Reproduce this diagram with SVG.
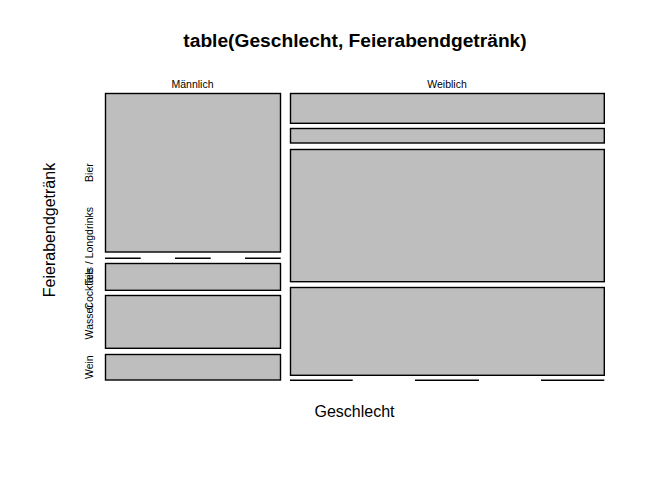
<svg xmlns="http://www.w3.org/2000/svg" width="672" height="480" viewBox="0 0 672 480">
<style>
  .cell { fill: #bebebe; stroke: #000; stroke-width: 1.4; }
  .zero { stroke: #000; stroke-width: 1.4; fill: none; }
  .lab { font-family: "Liberation Sans", Arial, sans-serif; font-size: 10.5px; fill: #000; }
  .axis { font-family: "Liberation Sans", Arial, sans-serif; font-size: 16px; fill: #000; }
  .title { font-family: "Liberation Sans", Arial, sans-serif; font-size: 19.2px; font-weight: bold; fill: #000; }
</style>
<rect x="0" y="0" width="672" height="480" fill="#fff"/>
<text class="title" x="355" y="47" text-anchor="middle">table(Geschlecht, Feierabendgetränk)</text>
<text class="axis" x="354.5" y="417" text-anchor="middle">Geschlecht</text>
<text class="axis" transform="translate(55,230) rotate(-90)" text-anchor="middle">Feierabendgetränk</text>

<g id="col-labels">
  <text class="lab" x="192.5" y="88" text-anchor="middle">Männlich</text>
  <text class="lab" x="447" y="88" text-anchor="middle">Weiblich</text>
</g>
<g id="row-labels">
  <text class="lab" transform="translate(92.5,172.6) rotate(-90)" text-anchor="middle">Bier</text>
  <text class="lab" transform="translate(92.5,258.3) rotate(-90)" text-anchor="middle">Cocktails / Longdrinks</text>
  <text class="lab" transform="translate(92.5,276.8) rotate(-90)" text-anchor="middle">Tee</text>
  <text class="lab" transform="translate(92.5,321.8) rotate(-90)" text-anchor="middle">Wasser</text>
  <text class="lab" transform="translate(92.5,367.2) rotate(-90)" text-anchor="middle">Wein</text>
</g>

<g id="maennlich">
  <rect class="cell" x="105.5" y="93.5" width="175" height="158.5"/>
  <g id="m-zero">
    <line class="zero" x1="105" y1="258.3" x2="140.7" y2="258.3"/>
    <line class="zero" x1="175" y1="258.3" x2="210.7" y2="258.3"/>
    <line class="zero" x1="245" y1="258.3" x2="280.7" y2="258.3"/>
  </g>
  <rect class="cell" x="105.5" y="263.5" width="175" height="26.8"/>
  <rect class="cell" x="105.5" y="295.5" width="175" height="52.8"/>
  <rect class="cell" x="105.5" y="354.5" width="175" height="25.5"/>
</g>

<g id="weiblich">
  <rect class="cell" x="290.5" y="93.5" width="313.8" height="29.8"/>
  <rect class="cell" x="290.5" y="128.5" width="313.8" height="14.5"/>
  <rect class="cell" x="290.5" y="149.5" width="313.8" height="132.2"/>
  <rect class="cell" x="290.5" y="287.5" width="313.8" height="87.8"/>
  <g id="w-zero">
    <line class="zero" x1="290" y1="380.3" x2="352.7" y2="380.3"/>
    <line class="zero" x1="415" y1="380.3" x2="479" y2="380.3"/>
    <line class="zero" x1="541" y1="380.3" x2="604.3" y2="380.3"/>
  </g>
</g>
<g id="connectors"/>
</svg>
